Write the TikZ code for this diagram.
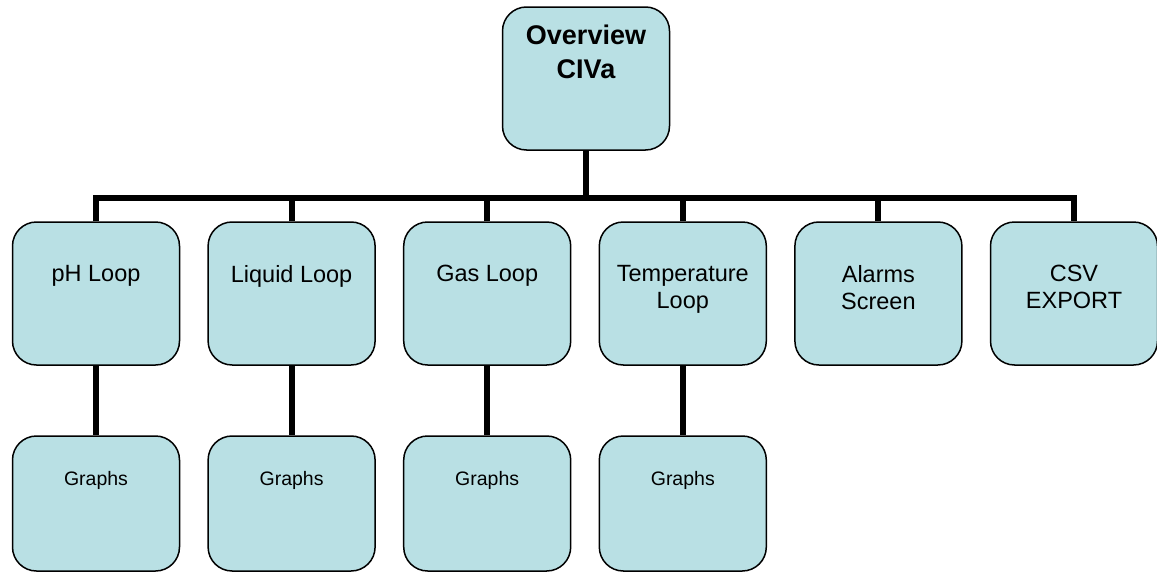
\documentclass[tikz,border=0pt]{standalone}
\usepackage{fontspec}
\setmainfont{Liberation Sans}
\usepackage{xcolor}
\usepackage{tikz}
\usetikzlibrary{positioning,calc}

\definecolor{boxfill}{RGB}{185,224,228}

\begin{document}
\begin{tikzpicture}[
  x=1pt,y=1pt,
  box/.style={draw,line width=1.5pt,rounded corners=24pt,fill=boxfill,
              minimum width=167pt,inner sep=0pt},
  headfont/.style={font=\fontsize{27}{34}\selectfont\bfseries,align=center,inner sep=0pt},
  loopfont/.style={font=\fontsize{23.5}{27}\selectfont,align=center,inner sep=0pt},
  graphfont/.style={font=\fontsize{19.5}{23}\selectfont,align=center,inner sep=0pt},
  head/.style={box,minimum height=143pt,
               label={[headfont,anchor=north,yshift=-18pt]north:#1}},
  loop/.style={box,minimum height=143pt,
               label={[loopfont,anchor=north,yshift=-44pt]north:#1}},
  graph/.style={box,minimum height=135pt,
                label={[graphfont,anchor=north,yshift=-36pt]north:#1}},
  link/.style={line width=6pt}
]
\useasboundingbox (0,0) rectangle (1157,-573);

% top
\node[head={Overview\\CIVa}] (top) at (586,-78.5) {};
\coordinate (bus) at (586,-198);

% screens
\node[loop={pH Loop}] (ph) at (96,-293.5) {};
\node[loop={Liquid Loop}] (liq) at (291.6,-293.5) {};
\node[loop={Gas Loop}] (gas) at (487.2,-293.5) {};
\node[loop={Temperature\\Loop}] (temp) at (682.8,-293.5) {};
\node[loop={Alarms\\Screen}] (alarm) at (878.4,-293.5) {};
\node[loop={CSV\\EXPORT}] (csv) at (1074,-293.5) {};

% graphs
\node[graph={Graphs}] (phg) at (96,-503.5) {};
\node[graph={Graphs}] (liqg) at (291.6,-503.5) {};
\node[graph={Graphs}] (gasg) at (487.2,-503.5) {};
\node[graph={Graphs}] (tempg) at (682.8,-503.5) {};

% lines
\draw[link] (top) -- (bus);
\draw[link] (ph.north) -- (ph.north |- bus) -- (csv.north |- bus) -- (csv.north);
\foreach \n in {liq,gas,temp,alarm}
  \draw[link] (\n.north) -- (\n.north |- bus);
\foreach \n in {ph,liq,gas,temp}
  \draw[link] (\n) -- (\n g);
\end{tikzpicture}
\end{document}
